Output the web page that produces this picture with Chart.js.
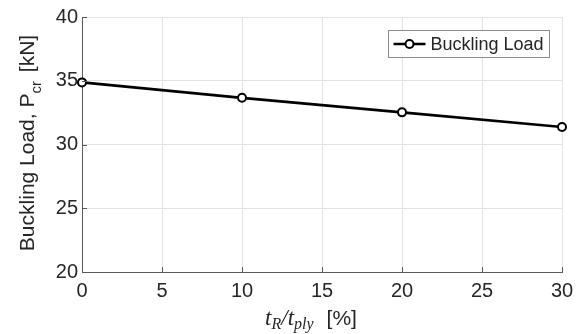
<!DOCTYPE html>
<html>
<head>
<meta charset="utf-8">
<script src="https://cdn.jsdelivr.net/npm/chart.js@4"></script>
<style>
  html, body { margin: 0; padding: 0; background: #fff; }
  #wrap { width: 576px; height: 334px; position: relative; }
</style>
</head>
<body>
<div id="wrap"><canvas id="myChart"></canvas></div>
<script>
// thickness ratio t_R/t_ply in % and the critical buckling load in kN
const ratios = [0, 10, 20, 30]
const bucklingLoad = [34.87, 33.66, 32.52, 31.37]
const xTicks = [0, 5, 10, 15, 20, 25, 30]
const yTicks = [20, 25, 30, 35, 40]
const seriesName = 'Buckling Load'

const textColor = '#262626'
const sans = "'Liberation Sans', Arial, sans-serif"
const serif = "'Liberation Serif', 'Times New Roman', serif"

// draws a run of text pieces one after another, with optional subscripts
function drawPieces(ctx, pieces, x, y) {
    let cx = x
    pieces.forEach(p => {
        ctx.font = p.font
        ctx.fillText(p.text, cx, y + (p.dy || 0))
        cx += ctx.measureText(p.text).width + (p.gap || 0)
    })
    return cx - x
}

function piecesWidth(ctx, pieces) {
    let w = 0
    pieces.forEach(p => {
        ctx.font = p.font
        w += ctx.measureText(p.text).width + (p.gap || 0)
    })
    return w
}

// axis titles with subscripts, ticks pointing into the plot, boxed legend
const decorPlugin = {
    id: 'decor',
    afterDatasetsDraw(chart) {
        const { ctx, chartArea: area, scales } = chart
        const xs = scales.x, ys = scales.y

        ctx.save()
        ctx.strokeStyle = '#5a5a5a'
        ctx.lineWidth = 1
        ctx.beginPath()
        xTicks.forEach(v => {
            const px = Math.round(xs.getPixelForValue(v)) + 0.5
            ctx.moveTo(px, area.bottom)
            ctx.lineTo(px, area.bottom - 5)
        })
        yTicks.forEach(v => {
            const py = Math.round(ys.getPixelForValue(v)) + 0.5
            ctx.moveTo(area.left, py)
            ctx.lineTo(area.left + 5, py)
        })
        ctx.stroke()

        // x title: t_R / t_ply  [%]
        ctx.fillStyle = textColor
        ctx.textBaseline = 'alphabetic'
        ctx.textAlign = 'left'
        const xTitle = [
            { text: 't', font: `italic 23px ${serif}` },
            { text: 'R', font: `italic 16px ${serif}`, dy: 4 },
            { text: '/', font: `italic 23px ${serif}` },
            { text: 't', font: `italic 23px ${serif}` },
            { text: 'ply', font: `italic 16px ${serif}`, dy: 4, gap: 13 },
            { text: '[%]', font: `21px ${sans}` }
        ]
        const xw = piecesWidth(ctx, xTitle)
        drawPieces(ctx, xTitle, 311 - xw / 2, 325)

        // y title: Buckling Load, P_cr [kN]
        const yTitle = [
            { text: 'Buckling Load, P', font: `21px ${sans}` },
            { text: 'cr', font: `15px ${sans}`, dy: 7, gap: 3 },
            { text: ' [kN]', font: `21px ${sans}` }
        ]
        const yw = piecesWidth(ctx, yTitle)
        ctx.save()
        ctx.translate(34, 143)
        ctx.rotate(-Math.PI / 2)
        drawPieces(ctx, yTitle, -yw / 2, 0)
        ctx.restore()

        // legend box
        const ds = chart.data.datasets[0]
        const bx = 388.5, by = 30.5, bw = 161, bh = 27
        ctx.fillStyle = '#fff'
        ctx.fillRect(bx, by, bw, bh)
        ctx.strokeStyle = '#8c8c8c'
        ctx.lineWidth = 1
        ctx.strokeRect(bx, by, bw, bh)
        const ly = by + bh / 2
        ctx.strokeStyle = ds.borderColor
        ctx.lineWidth = ds.borderWidth
        ctx.beginPath()
        ctx.moveTo(bx + 5, ly)
        ctx.lineTo(bx + 37, ly)
        ctx.stroke()
        ctx.fillStyle = ds.pointBackgroundColor
        ctx.lineWidth = ds.pointBorderWidth
        ctx.beginPath()
        ctx.arc(bx + 21, ly, ds.pointRadius, 0, Math.PI * 2)
        ctx.fill()
        ctx.stroke()
        ctx.fillStyle = textColor
        ctx.font = `18px ${sans}`
        ctx.textBaseline = 'middle'
        ctx.fillText(ds.label, bx + 42, ly + 1)
        ctx.restore()
    }
}

const ctx = document.getElementById('myChart').getContext('2d')
const myChart = new Chart(ctx, {
    type: 'line',
    data: {
        datasets: [{
            label: seriesName,
            data: ratios.map((r, i) => ({ x: r, y: bucklingLoad[i] })),
            borderColor: '#000',
            borderWidth: 2.6,
            pointRadius: 4,
            pointBorderWidth: 2,
            pointBackgroundColor: '#fff',
            pointBorderColor: '#000',
            tension: 0,
            clip: false
        }]
    },
    options: {
        responsive: true,
        maintainAspectRatio: false,
        animation: false,
        layout: { padding: { top: 17, right: 14, left: 0, bottom: 0 } },
        plugins: {
            legend: { display: false },
            tooltip: { enabled: false }
        },
        scales: {
            x: {
                type: 'linear',
                min: 0,
                max: 30,
                afterBuildTicks: axis => { axis.ticks = xTicks.map(v => ({ value: v })) },
                afterFit: axis => {
                    axis.height = 62
                    axis.paddingLeft = 0
                    axis.paddingRight = 0
                },
                grid: { color: '#e3e3e3', drawTicks: false },
                border: { color: '#5a5a5a', width: 1 },
                ticks: { color: textColor, font: { family: sans, size: 20 }, padding: 7, maxRotation: 0 }
            },
            y: {
                type: 'linear',
                min: 20,
                max: 40,
                afterBuildTicks: axis => { axis.ticks = yTicks.map(v => ({ value: v })) },
                afterFit: axis => {
                    axis.width = 82
                    axis.paddingTop = 0
                    axis.paddingBottom = 0
                },
                grid: { color: '#e3e3e3', drawTicks: false },
                border: { color: '#5a5a5a', width: 1 },
                ticks: { color: textColor, font: { family: sans, size: 20 }, padding: 4 }
            }
        }
    },
    plugins: [decorPlugin]
})
</script>
</body>
</html>
